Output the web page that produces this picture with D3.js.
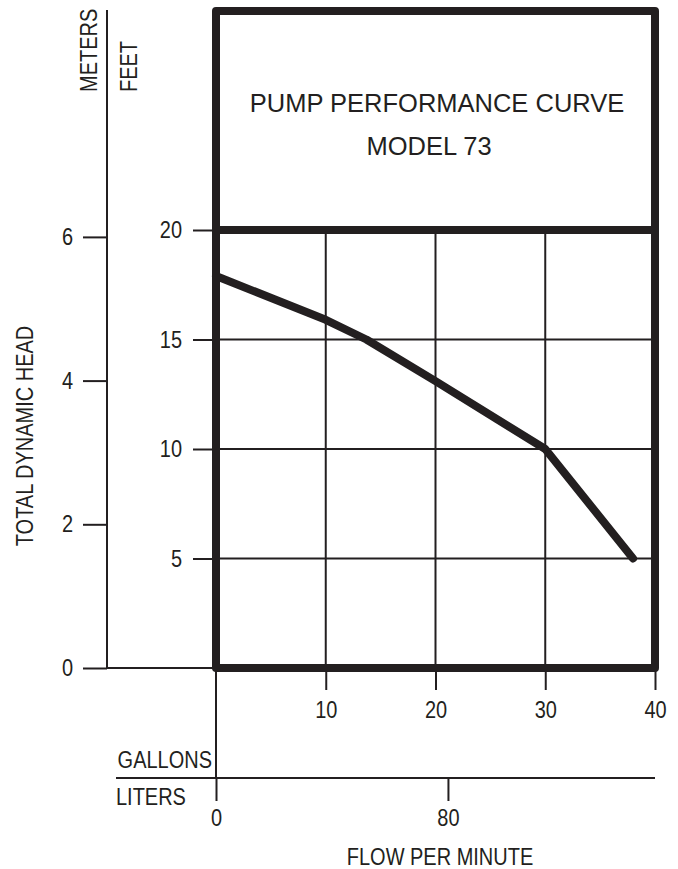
<!DOCTYPE html>
<html>
<head>
<meta charset="utf-8">
<script src="https://cdn.jsdelivr.net/npm/d3@7"></script>
<style>
  body { margin: 0; background: #fff; }
  text { fill: #231f20; }
</style>
</head>
<body>
<script>
// curve: gallons per minute vs feet of head
var flowGallons = [0, 10, 13.7, 20, 30, 38];
var headFeet = [17.9, 15.9, 15, 13.1, 10, 5];

var feetTicks = [5, 10, 15, 20];
var meterTicks = [0, 2, 4, 6];
var gallonTicks = [10, 20, 30, 40];
var literTicks = [0, 80];

var titleLines = ["PUMP PERFORMANCE CURVE", "MODEL 73"];

var ink = "#231f20";
var font = "'Liberation Sans', Arial, sans-serif";
var squeeze = 0.85; // the original lettering is a condensed face

var width = 678, height = 869;
var frame = { left: 216, right: 655, top: 11, bottom: 668 };

var svg = d3.select("body").append("svg")
  .attr("width", width)
  .attr("height", height);

var x = d3.scaleLinear().domain([0, 40]).range([frame.left, frame.right]);
var yFt = d3.scaleLinear().domain([0, 20]).range([frame.bottom, 230]);
// meters share the same vertical space as feet
var yM = d3.scaleLinear().domain([0, 20 / 3.28084]).range([frame.bottom, 230]);
var xL = d3.scaleLinear().domain([0, 40 * 3.78541]).range([frame.left, frame.right]);

var condense = function(sel) {
  sel.each(function(){
    var len = this.getComputedTextLength();
    d3.select(this).attr("textLength", len * squeeze).attr("lengthAdjust", "spacingAndGlyphs");
  });
}

// grid
var grid = svg.append("g").attr("stroke", ink).attr("stroke-width", 2);
grid.selectAll(".h").data([5, 10, 15]).enter().append("line")
  .attr("x1", frame.left).attr("x2", frame.right)
  .attr("y1", function(d){ return yFt(d); })
  .attr("y2", function(d){ return yFt(d); });
grid.selectAll(".v").data([10, 20, 30]).enter().append("line")
  .attr("y1", yFt(20)).attr("y2", frame.bottom)
  .attr("x1", function(d){ return x(d); })
  .attr("x2", function(d){ return x(d); });

// meters axis
var mAxis = svg.append("g")
  .attr("transform", "translate(107,0)")
  .call(d3.axisLeft(yM).tickValues(meterTicks).tickFormat(d3.format("d")).tickSize(24).tickPadding(10));
mAxis.select(".domain").remove();
svg.append("line").attr("x1", 107).attr("x2", 107).attr("y1", 10).attr("y2", frame.bottom)
  .attr("stroke", ink).attr("stroke-width", 2);
svg.append("line").attr("x1", 107).attr("x2", frame.left).attr("y1", yM(0)).attr("y2", yM(0))
  .attr("stroke", ink).attr("stroke-width", 2);

// feet axis
var fAxis = svg.append("g")
  .attr("transform", "translate(" + frame.left + ",0)")
  .call(d3.axisLeft(yFt).tickValues(feetTicks).tickSize(23).tickPadding(11));
fAxis.select(".domain").remove();

// gallons axis
var gAxis = svg.append("g")
  .attr("transform", "translate(0," + frame.bottom + ")")
  .call(d3.axisBottom(x).tickValues(gallonTicks).tickSize(22).tickPadding(11));
gAxis.select(".domain").remove();
svg.append("line").attr("x1", frame.left).attr("x2", frame.left).attr("y1", frame.bottom).attr("y2", 778)
  .attr("stroke", ink).attr("stroke-width", 2);

// liters axis
var lAxis = svg.append("g")
  .attr("transform", "translate(0,778)")
  .call(d3.axisBottom(xL).tickValues(literTicks).tickSize(23).tickPadding(8));
lAxis.select(".domain").remove();
svg.append("line").attr("x1", 116).attr("x2", frame.right).attr("y1", 778).attr("y2", 778)
  .attr("stroke", ink).attr("stroke-width", 2);

[mAxis, fAxis, gAxis, lAxis].forEach(function(a){
  a.selectAll(".tick line").attr("stroke", ink).attr("stroke-width", 2);
  a.selectAll(".tick text").attr("fill", ink)
    .style("font-family", font).style("font-size", "23.5px")
    .call(condense);
});

// performance curve
var pts = flowGallons.map(function(g, i){ return [g, headFeet[i]]; });
var line = d3.line()
  .x(function(d){ return x(d[0]); })
  .y(function(d){ return yFt(d[1]); });
svg.append("path").datum(pts)
  .attr("d", line)
  .attr("fill", "none")
  .attr("stroke", ink)
  .attr("stroke-width", 8)
  .attr("stroke-linecap", "round")
  .attr("stroke-linejoin", "round");

// heavy frame
svg.append("rect")
  .attr("x", frame.left).attr("y", frame.top)
  .attr("width", frame.right - frame.left).attr("height", frame.bottom - frame.top)
  .attr("fill", "none").attr("stroke", ink).attr("stroke-width", 8)
  .attr("stroke-linejoin", "round");
svg.append("line")
  .attr("x1", frame.left).attr("x2", frame.right)
  .attr("y1", yFt(20)).attr("y2", yFt(20))
  .attr("stroke", ink).attr("stroke-width", 8);

// title
svg.selectAll(".title").data(titleLines).enter().append("text")
  .attr("x", function(d, i){ return i == 0 ? 437 : 429; })
  .attr("y", function(d, i){ return i == 0 ? 112 : 155; })
  .attr("text-anchor", "middle")
  .style("font-family", font)
  .style("font-size", "25.5px")
  .text(function(d){ return d; });

// axis names
var label = function(txt, tx, ty, rot, anchor) {
  svg.append("text")
    .attr("transform", "translate(" + tx + "," + ty + ")" + (rot ? " rotate(-90)" : ""))
    .attr("text-anchor", anchor)
    .style("font-family", font)
    .style("font-size", "23.5px")
    .text(txt)
    .call(condense);
}
label("METERS", 97, 92, true, "start");
label("FEET", 137, 92, true, "start");
label("TOTAL DYNAMIC HEAD", 33, 436, true, "middle");
label("GALLONS", 212, 768, false, "end");
label("LITERS", 116, 805, false, "start");
label("FLOW PER MINUTE", 440, 865, false, "middle");
</script>
</body>
</html>
